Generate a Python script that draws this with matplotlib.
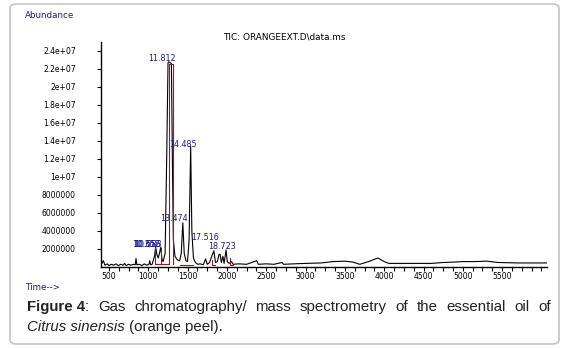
import matplotlib
matplotlib.use("Agg")
import matplotlib.pyplot as plt
from matplotlib.patches import FancyBboxPatch
from matplotlib.ticker import MultipleLocator, FixedLocator

# chromatogram trace (scan, abundance)
scan = [400, 410, 430, 450, 480, 500, 530, 560, 590, 620, 650, 680, 700, 720, 750,
        780, 810, 835, 845, 855, 890, 920, 950, 980, 1010, 1020, 1030, 1050,
        1080, 1095, 1110, 1128, 1145, 1160, 1175, 1190, 1215, 1235, 1252, 1262,
        1280, 1295, 1310, 1320, 1340, 1370, 1400, 1420, 1440, 1458, 1480, 1500,
        1520, 1540, 1555, 1575, 1600, 1630, 1660, 1700, 1730, 1750, 1780, 1800,
        1835, 1855, 1880, 1900, 1915, 1930, 1950, 1965, 1990, 2005, 2030, 2060,
        2080, 2150, 2250, 2380, 2400, 2500, 2600, 2700, 2720, 2850, 3000, 3200,
        3350, 3500, 3600, 3690, 3800, 3920, 4000, 4060, 4300, 4600, 4750, 4900,
        5000, 5150, 5300, 5450, 5700, 5900, 6070]
abund = [1.0e6, 0.4e6, 0.7e6, 0.2e6, 0.35e6, 0.15e6, 0.3e6, 0.2e6, 0.35e6, 0.15e6,
         0.3e6, 0.2e6, 0.4e6, 0.15e6, 0.3e6, 0.2e6, 0.3e6, 0.25e6, 0.95e6, 0.25e6,
         0.3e6, 0.15e6, 0.35e6, 0.2e6, 0.3e6, 0.7e6, 0.25e6, 0.3e6,
         1.2e6, 2.2e6, 1.4e6, 1.0e6, 1.6e6, 2.2e6, 0.9e6, 0.6e6, 1.5e6, 1.2e7, 2.27e7,
         2.28e7, 2.27e7, 2.26e7, 1.0e7, 3.0e6, 1.2e6, 0.8e6, 0.7e6, 1.5e6, 4.9e6,
         1.5e6, 0.7e6, 0.6e6, 3.0e6, 1.34e7, 4.0e6, 1.0e6, 0.5e6, 0.3e6, 0.35e6,
         0.25e6, 0.9e6, 0.3e6, 0.5e6, 1.0e6, 1.8e6, 0.5e6, 0.6e6, 1.4e6, 1.4e6, 0.5e6,
         1.2e6, 0.4e6, 1.9e6, 0.6e6, 0.4e6, 0.6e6, 0.3e6, 0.35e6, 0.3e6, 0.7e6, 0.3e6,
         0.35e6, 0.3e6, 0.5e6, 0.3e6, 0.35e6, 0.4e6, 0.45e6, 0.6e6, 0.65e6, 0.55e6,
         0.3e6, 0.6e6, 1.0e6, 0.6e6, 0.4e6, 0.4e6, 0.4e6, 0.5e6, 0.55e6, 0.6e6,
         0.6e6, 0.65e6, 0.5e6, 0.45e6, 0.45e6, 0.45e6]

# integration marks (red), None breaks the line
red_x = [1082, 1082, 1263, 1263, None, 1158, 1158, None, 1263, 1263, 1312, 1312, None,
         1400, 1570, None, 1810, 1810, 1850, None, 2040, 2040, 2080]
red_y = [2.1e6, 0.3e6, 0.3e6, 2.26e7, None, 0.3e6, 2.1e6, None, 2.26e7, 2.26e7, 2.26e7, 0.3e6, None,
         0.25e6, 0.25e6, None, 0.8e6, 0.25e6, 0.25e6, None, 1.0e6, 0.25e6, 0.25e6]

# peak labels: (text, scan at right end, abundance at text centre)
peak_labels = ["11.812", "14.485", "13.474", "17.516", "18.723", "10.352", "10.583", "10.656"]
label_x = [1355, 1620, 1500, 1905, 2120, 1150, 1170, 1160]
label_y = [2.32e7, 1.36e7, 5.4e6, 3.3e6, 2.3e6, 2.45e6, 2.55e6, 2.5e6]

yticks = [2e6 * i for i in range(1, 13)]
ytick_labels = ["2000000", "4000000", "6000000", "8000000", "1e+07", "1.2e+07",
                "1.4e+07", "1.6e+07", "1.8e+07", "2e+07", "2.2e+07", "2.4e+07"]
xticks = [500, 1000, 1500, 2000, 2500, 3000, 3500, 4000, 4500, 5000, 5500]

navy = "#1c1c8a"
fam = ["Liberation Sans Narrow", "DejaVu Sans"]
small = dict(family=fam, fontsize=5.5)

fig = plt.figure(figsize=(5.66, 3.48), dpi=100)
fig.patches.append(FancyBboxPatch((10 / 566, 4 / 348), 549 / 566, 340 / 348,
                                  boxstyle="round,pad=0,rounding_size=0.012",
                                  transform=fig.transFigure, fc="none",
                                  ec="#c4c4c4", lw=1.2, zorder=-1))

ax = fig.add_axes([101 / 566, 81 / 348, 446 / 566, 225 / 348])
ax.patch.set_alpha(0)
ax.plot(scan, abund, color="black", lw=0.8)
ax.plot(red_x, red_y, color="#a01818", lw=0.8)
for t, x, y in zip(peak_labels, label_x, label_y):
    ax.text(x, y, t, color=navy, ha="right", va="center", family=fam, fontsize=5.8)

ax.set_xlim(400, 6070)
ax.set_ylim(0, 2.5e7)
for s in ["top", "right"]:
    ax.spines[s].set_visible(False)
ax.spines["left"].set_linewidth(1.0)
ax.spines["bottom"].set_linewidth(1.0)
ax.yaxis.set_major_locator(FixedLocator(yticks))
ax.set_yticklabels(ytick_labels, **small)
ax.xaxis.set_major_locator(FixedLocator(xticks))
ax.xaxis.set_minor_locator(MultipleLocator(125))
ax.set_xticklabels([str(v) for v in xticks], **small)
ax.tick_params(axis="y", length=3, width=0.8, pad=15)
ax.tick_params(axis="x", which="both", length=3, width=0.8, pad=0.5)

fig.text(25 / 566, 1 - 16 / 348, "Abundance", color=navy, va="center", family=fam, fontsize=6.3)
fig.text(284 / 566, 1 - 37 / 348, "TIC: ORANGEEXT.D\\data.ms", color="black",
         ha="center", va="center", family=fam, fontsize=6.4)
fig.text(25 / 566, 1 - 288 / 348, "Time-->", color=navy, va="center", family=fam, fontsize=6.3)

# caption, first line justified
cap = dict(family="Liberation Sans", fontsize=10.8, color="#222222", va="baseline")
fig.canvas.draw()
r = fig.canvas.get_renderer()
W = 566.0
x0, x1 = 27.0, 551.0
yb1 = 1 - 311 / 348
t = fig.text(x0 / W, yb1, "Figure 4", fontweight="bold", **cap)
xb = t.get_window_extent(r).x1
t = fig.text(xb / W, yb1, ":", **cap)
xb = t.get_window_extent(r).x1
words = "Gas chromatography/ mass spectrometry of the essential oil of".split()
objs = [fig.text(0, yb1, w, **cap) for w in words]
widths = [o.get_window_extent(r).width for o in objs]
gap = (x1 - xb - sum(widths)) / len(words)
xc = xb + gap
for o, w in zip(objs, widths):
    o.set_x(xc / W)
    xc += w + gap

yb2 = 1 - 331 / 348
t = fig.text(x0 / W, yb2, "Citrus sinensis", fontstyle="italic", **cap)
xb = t.get_window_extent(r).x1
fig.text(xb / W, yb2, " (orange peel).", **cap)

fig.savefig("out.png", dpi=100)
